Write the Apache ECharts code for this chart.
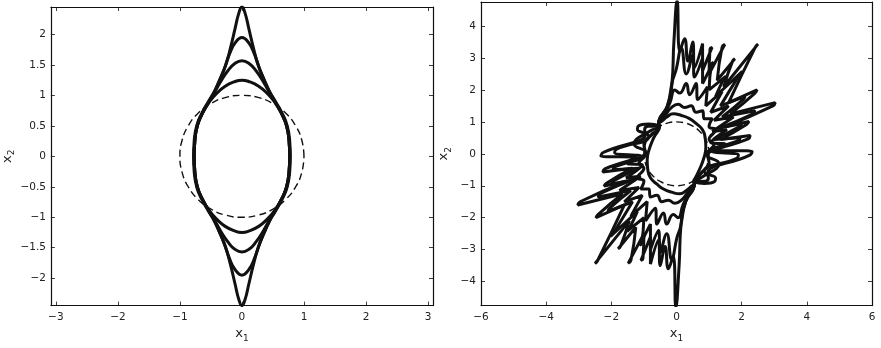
<!DOCTYPE html>
<html>
<head>
<meta charset="utf-8">
<script src="https://cdn.jsdelivr.net/npm/echarts@6/dist/echarts.min.js"></script>
<style>
  html, body { margin: 0; padding: 0; background: #fff; }
  #chart { width: 881px; height: 348px; }
</style>
</head>
<body>
<div id="chart"></div>
<script>
// ---- data ----
// left panel: first-quadrant pieces, mirrored to the other quadrants
const leftCircleQ = [[1, 0], [0.966, 0.259], [0.866, 0.5], [0.707, 0.707], [0.5, 0.866], [0.259, 0.966], [0, 1]];
const leftCurveA = [[0.77, 0], [0.76, 0.25], [0.72, 0.5], [0.63, 0.72], [0.52, 0.9], [0.4, 1.04], [0.27, 1.15], [0.13, 1.22], [0, 1.25]];
const leftCurveB = [[0.77, 0], [0.76, 0.25], [0.72, 0.5], [0.64, 0.7], [0.53, 0.9], [0.43, 1.07], [0.33, 1.25], [0.23, 1.4], [0.12, 1.52], [0, 1.57]];
const leftCurveC = [[0.77, 0], [0.76, 0.25], [0.72, 0.5], [0.64, 0.7], [0.53, 0.9], [0.44, 1.07], [0.36, 1.25], [0.28, 1.45], [0.2, 1.68], [0.11, 1.86], [0, 1.95]];
const leftCurveD = [[0.78, 0], [0.77, 0.25], [0.73, 0.5], [0.65, 0.7], [0.54, 0.9], [0.44, 1.07], [0.36, 1.25], [0.26, 1.5], [0.18, 1.8], [0.11, 2.1], [0.05, 2.35], [0, 2.45]];

// right panel: half loops (the other half is the point reflection)
const rightCircleQ = leftCircleQ;
const rightCurve1 = [[0.52, -0.86], [0.7, -0.5], [0.85, -0.1], [0.9, 0.2], [0.88, 0.5], [0.8, 0.75], [0.6, 0.95], [0.4, 1.1], [0.15, 1.2], [-0.1, 1.25], [-0.3, 1.15], [-0.45, 1.02], [-0.55, 0.94]];
const rightCurve2 = [[0.52, -0.86], [0.75, -0.6], [1.0, -0.3], [0.95, 0.0], [1.15, 0.3], [1.0, 0.45], [1.2, 0.75], [1.0, 0.85], [1.1, 1.1], [0.85, 1.1], [0.8, 1.35], [0.6, 1.3], [0.45, 1.5], [0.25, 1.45], [0.05, 1.55], [-0.15, 1.45], [-0.35, 1.2], [-0.55, 0.94]];
const rightCurve3 = [[0.52, -0.86], [0.8, -0.72], [1.3, -0.3], [0.95, -0.05], [1.5, 0.3], [1.05, 0.35], [1.55, 0.75], [1.1, 0.7], [1.75, 1.15], [1.15, 1.05], [1.6, 1.5], [1.05, 1.3], [1.4, 1.95], [0.9, 1.5], [0.95, 2.1], [0.65, 1.7], [0.6, 2.2], [0.4, 1.85], [0.3, 2.2], [0.1, 1.9], [-0.05, 2.0], [-0.2, 1.6], [-0.35, 1.3], [-0.55, 0.94]];
const rightCurve4 = [[0.52, -0.87], [0.88, -0.86], [0.98, -0.74], [0.85, -0.55], [1.85, -0.14], [1.9, -0.04], [1.05, 0.1], [1.9, 0.41], [1.95, 0.5], [1.15, 0.45], [1.95, 0.86], [2.0, 0.95], [1.3, 0.8], [2.35, 1.25], [2.4, 1.35], [1.4, 1.15], [2.05, 1.7], [2.1, 1.8], [1.35, 1.5], [1.95, 2.5], [2.02, 2.58], [1.2, 1.8], [1.46, 2.36], [1.52, 2.43], [1.0, 2.0], [1.07, 2.8], [1.13, 2.86], [0.8, 2.2], [0.8, 3.0], [0.55, 2.4], [0.5, 3.1], [0.3, 2.5], [0.15, 3.3], [-0.02, 2.6], [-0.12, 2.3], [-0.28, 1.5], [-0.55, 0.94]];
const rightCurve5 = [[0.52, -0.88], [0.85, -0.93], [1.17, -0.87], [1.2, -0.76], [0.95, -0.62], [2.25, -0.04], [2.32, 0.07], [1.2, 0.12], [2.2, 0.47], [2.26, 0.57], [1.35, 0.45], [2.15, 0.92], [2.22, 1.01], [1.5, 0.85], [2.96, 1.5], [3.03, 1.6], [1.65, 1.25], [2.41, 1.9], [2.47, 2.0], [1.6, 1.6], [2.42, 3.34], [2.5, 3.43], [1.45, 2.1], [1.72, 2.9], [1.79, 2.97], [1.25, 2.3], [1.4, 3.34], [1.48, 3.42], [1.0, 2.5], [1.03, 3.28], [1.09, 3.33], [0.8, 2.6], [0.8, 3.45], [0.55, 2.7], [0.5, 3.5], [0.35, 2.9], [0.25, 3.6], [0.1, 3.2], [0.02, 4.8], [-0.08, 3.5], [-0.14, 2.2], [-0.28, 1.5], [-0.55, 0.94]];

const leftXTicks = [-3, -2, -1, 0, 1, 2, 3];
const leftYTicks = [-2, -1.5, -1, -0.5, 0, 0.5, 1, 1.5, 2];
const rightXTicks = [-6, -4, -2, 0, 2, 4, 6];
const rightYTicks = [-4, -3, -2, -1, 0, 1, 2, 3, 4];

// ---- helpers ----
function loop4(q) {
  const b = q.slice().reverse().map(([x, y]) => [-x, y]);
  const c = q.map(([x, y]) => [-x, -y]);
  const d = q.slice().reverse().map(([x, y]) => [x, -y]);
  return q.concat(b.slice(1), c.slice(1), d.slice(1));
}
function loop2(h) {
  return h.concat(h.map(([x, y]) => [-x, -y]), [h[0]]);
}
const fmt = v => (v < 0 ? '\u2212' + Math.abs(v) : String(v));

const ink = '#111';
const labelStyle = { color: '#222', fontSize: 10.5, fontFamily: 'DejaVu Sans' };
const nameRich = {
  x: { fontSize: 13, fontFamily: 'DejaVu Sans', color: '#222' },
  s: { fontSize: 9, fontFamily: 'DejaVu Sans', color: '#222', padding: [9, 0, 0, 0] }
};

function axisPair(dim, grid, min, max, ticks, pos, name, nameGap) {
  const base = {
    gridIndex: grid, type: 'value', min: min, max: max,
    axisLine: { show: true, onZero: false, lineStyle: { color: ink, width: 1.2 } },
    axisTick: { show: true, inside: true, length: 4, customValues: ticks, lineStyle: { color: ink, width: 0.8 } },
    splitLine: { show: false }
  };
  const main = Object.assign({}, base, {
    position: pos[0],
    axisLabel: Object.assign({ customValues: ticks, formatter: fmt, margin: dim === 'x' ? 6 : 5 }, labelStyle),
    name: name, nameLocation: 'middle', nameGap: nameGap,
    nameRotate: dim === 'y' ? 90 : 0,
    nameTextStyle: { rich: nameRich }
  });
  const other = Object.assign({}, base, { position: pos[1], axisLabel: { show: false } });
  return [main, other];
}

const chart = echarts.init(document.getElementById('chart'), null, { renderer: 'canvas' });

const solid = { color: ink, width: 3 };
const dashed = { color: ink, width: 1.4, type: [7, 4] };
function curve(data, xi, yi, style, smooth) {
  return {
    type: 'line', xAxisIndex: xi, yAxisIndex: yi, data: data,
    showSymbol: false, smooth: smooth, lineStyle: style, silent: true, animation: false
  };
}

chart.setOption({
  animation: false,
  backgroundColor: '#fff',
  grid: [
    { left: 49, top: 7, width: 384, height: 303 },
    { left: 481, top: 2, width: 391, height: 307 }
  ],
  xAxis: [].concat(
    axisPair('x', 0, -3.08, 3.08, leftXTicks, ['bottom', 'top'], '{x|x}{s|1}', 16),
    axisPair('x', 1, -6, 6, rightXTicks, ['bottom', 'top'], '{x|x}{s|1}', 16)
  ),
  yAxis: [].concat(
    axisPair('y', 0, -2.45, 2.45, leftYTicks, ['left', 'right'], '{x|x}{s|2}', 34),
    axisPair('y', 1, -4.75, 4.75, rightYTicks, ['left', 'right'], '{x|x}{s|2}', 28)
  ),
  series: [
    curve(loop4(leftCircleQ), 0, 0, dashed, true),
    curve(loop4(leftCurveA), 0, 0, solid, true),
    curve(loop4(leftCurveB), 0, 0, solid, true),
    curve(loop4(leftCurveC), 0, 0, solid, true),
    curve(loop4(leftCurveD), 0, 0, solid, true),
    curve(loop4(rightCircleQ), 2, 2, dashed, true),
    curve(loop2(rightCurve1), 2, 2, solid, 0.5),
    curve(loop2(rightCurve2), 2, 2, solid, 0.5),
    curve(loop2(rightCurve3), 2, 2, solid, 0.5),
    curve(loop2(rightCurve4), 2, 2, solid, 0.5),
    curve(loop2(rightCurve5), 2, 2, solid, 0.5)
  ]
});
</script>
</body>
</html>
